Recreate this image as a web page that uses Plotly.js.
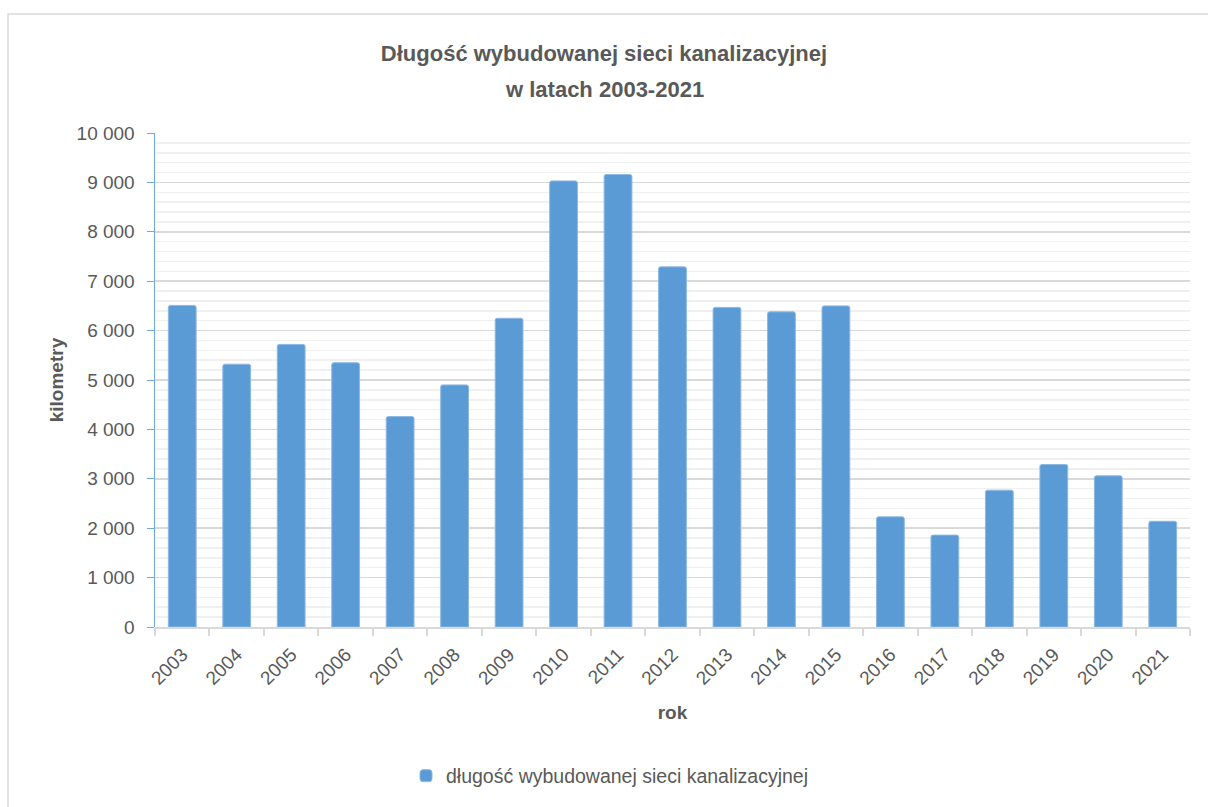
<!DOCTYPE html>
<html>
<head>
<meta charset="utf-8">
<script src="https://cdn.plot.ly/plotly-3.0.1.min.js"></script>
<style>html,body{margin:0;padding:0;background:#fff;}#chart{width:1208px;height:807px;}</style>
</head>
<body>
<div id="chart"></div>
<script>
const years = ["2003","2004","2005","2006","2007","2008","2009","2010","2011","2012","2013","2014","2015","2016","2017","2018","2019","2020","2021"];
const lengthKm = [6510, 5320, 5720, 5350, 4260, 4900, 6250, 9030, 9160, 7290, 6470, 6380, 6500, 2230, 1860, 2770, 3290, 3060, 2140];
const seriesName = "długość wybudowanej sieci kanalizacyjnej";
const titleLine1 = "Długość wybudowanej sieci kanalizacyjnej";
const titleLine2 = "w latach 2003-2021";
const yTitle = "kilometry";
const xTitle = "rok";

const FONT = "Liberation Sans, Arial, sans-serif";
const GREY = "#595959";

const trace = {
  type: "bar",
  x: years,
  y: lengthKm,
  name: seriesName,
  marker: { color: "#5B9BD5", line: { color: "#8DB8E2", width: 1 } },
  showlegend: true,
  hoverinfo: "x+y"
};

const layout = {
  width: 1208,
  height: 807,
  margin: { l: 155, r: 18, t: 133, b: 180 },
  paper_bgcolor: "#ffffff",
  plot_bgcolor: "#ffffff",
  separators: ", ",
  bargap: 0.49,
  barcornerradius: 2,
  font: { family: FONT, color: GREY, size: 19 },
  title: {
    text: "<b>" + titleLine1 + "</b>",
    x: 0.5, xref: "container", xanchor: "center",
    y: 1 - 53 / 807, yref: "container", yanchor: "middle",
    font: { family: FONT, size: 22, color: GREY }
  },
  annotations: [{
    text: "<b>" + titleLine2 + "</b>",
    xref: "paper", yref: "paper",
    x: (604 - 155) / 1035, y: (627 - 89) / 494,
    xanchor: "center", yanchor: "middle",
    showarrow: false,
    font: { family: FONT, size: 22, color: GREY }
  }],
  xaxis: {
    type: "category",
    tickangle: -45,
    tickson: "boundaries",
    ticks: "outside",
    ticklen: 7,
    tickcolor: "#D9D9D9",
    tickwidth: 2,
    showline: true,
    linecolor: "#D9D9D9",
    linewidth: 2,
    showgrid: false,
    zeroline: false,
    ticklabelstandoff: 7,
    tickfont: { family: FONT, size: 19, color: GREY },
    title: { text: "<b>" + xTitle + "</b>", standoff: 18, font: { family: FONT, size: 19, color: GREY } },
    automargin: false
  },
  yaxis: {
    range: [0, 10000],
    dtick: 1000,
    tickformat: ",d",
    ticks: "outside",
    ticklen: 7,
    tickcolor: "#6FA8DC",
    showline: true,
    linecolor: "#6FA8DC",
    linewidth: 1.5,
    showgrid: true,
    gridcolor: "#D9D9D9",
    gridwidth: 1.5,
    zeroline: false,
    minor: { dtick: 200, showgrid: true, gridcolor: "#F0F0F0", gridwidth: 1.5, ticks: "" },
    ticklabelstandoff: 8,
    tickfont: { family: FONT, size: 19, color: GREY },
    title: { text: "<b>" + yTitle + "</b>", standoff: 8, font: { family: FONT, size: 19, color: GREY } },
    automargin: false
  },
  legend: {
    orientation: "h",
    x: (406 - 155) / 1035, xanchor: "left",
    y: (627 - 776) / 494, yanchor: "middle",
    font: { family: FONT, size: 19.5, color: GREY },
    itemwidth: 30
  },
  shapes: [{
    type: "rect", xref: "paper", yref: "paper",
    x0: (8 - 155) / 1035, x1: (1230 - 155) / 1035,
    y0: (627 - 830) / 494, y1: (627 - 14) / 494,
    line: { color: "#D9D9D9", width: 1.5 },
    fillcolor: "rgba(0,0,0,0)",
    layer: "below"
  }]
};

Plotly.newPlot("chart", [trace], layout, { displayModeBar: false, staticPlot: true });
</script>
</body>
</html>
